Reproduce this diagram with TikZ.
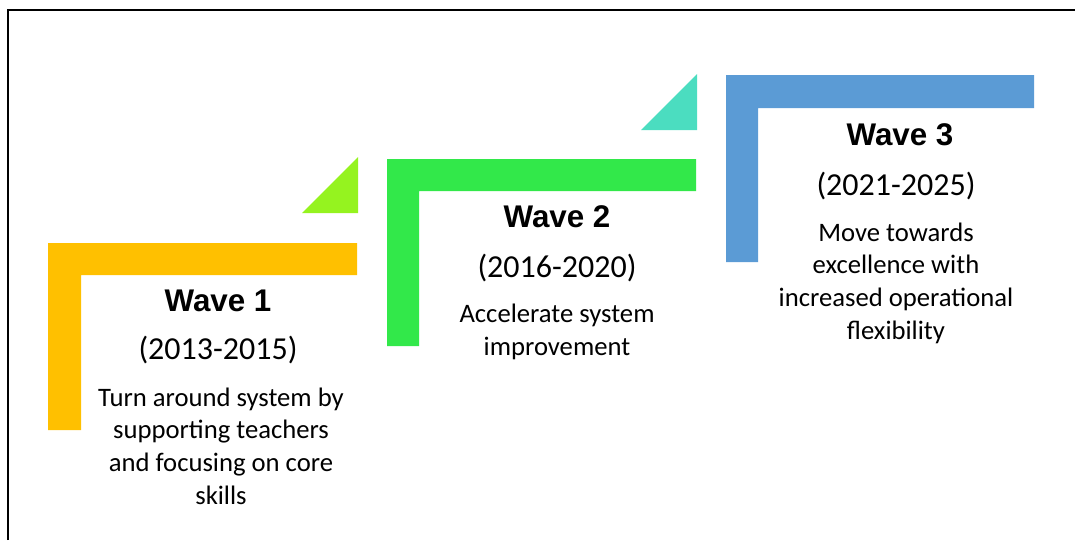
\documentclass[tikz,border=0pt]{standalone}
\usepackage{fontspec}
\setmainfont{Carlito}
\newfontfamily\titlefont{Liberation Sans}
\definecolor{cOrange}{RGB}{255,192,0}
\definecolor{cLime}{RGB}{149,243,31}
\definecolor{cGreen}{RGB}{50,232,74}
\definecolor{cTeal}{RGB}{75,221,192}
\definecolor{cBlue}{RGB}{91,155,213}
\tikzset{
  wavetitle/.style={inner sep=0pt, anchor=base, font=\titlefont\bfseries\fontsize{23.5}{27}\selectfont},
  waveyears/.style={inner sep=0pt, anchor=base, font=\fontsize{24}{29}\selectfont},
  wavebody/.style={inner sep=0pt, anchor=base, align=center, font=\fontsize{20}{24.4}\selectfont},
}
\begin{document}
\begin{tikzpicture}[x=0.75pt,y=-0.75pt]
\useasboundingbox (0,0) rectangle (1075,540);
% frame (left and top edges only visible)
\draw[line width=1.5pt] (8,540) -- (8,10) -- (1075,10);
% wave 1
\fill[cOrange] (48,243) -- (357,243) -- (357,275) -- (81,275) -- (81,430) -- (48,430) -- cycle;
\fill[cLime] (302,213) -- (358,157) -- (358,213) -- cycle;
% wave 2
\fill[cGreen] (387,159) -- (696,159) -- (696,191) -- (419,191) -- (419,346) -- (387,346) -- cycle;
\fill[cTeal] (641,130) -- (697,74) -- (697,130) -- cycle;
% wave 3
\fill[cBlue] (726,75) -- (1034,75) -- (1034,108) -- (758,108) -- (758,262) -- (726,262) -- cycle;
% texts (body nodes are anchored at the baseline of their last line)
\node[wavetitle] (t1) at (218,311) {Wave 1};
\node[waveyears] (y1) at (218,359) {(2013-2015)};
\node[wavebody] (b1) at (221,504) {Turn around system by\\supporting teachers\\and focusing on core\\skills};
\node[wavetitle] (t2) at (557,227.5) {Wave 2};
\node[waveyears] (y2) at (557,277) {(2016-2020)};
\node[wavebody] (b2) at (557,355) {Accelerate system\\improvement};
\node[wavetitle] (t3) at (900,145) {Wave 3};
\node[waveyears] (y3) at (896,195) {(2021-2025)};
\node[wavebody] (b3) at (896,339) {Move towards\\excellence with\\increased operational\\flexibility};
\end{tikzpicture}
\end{document}
